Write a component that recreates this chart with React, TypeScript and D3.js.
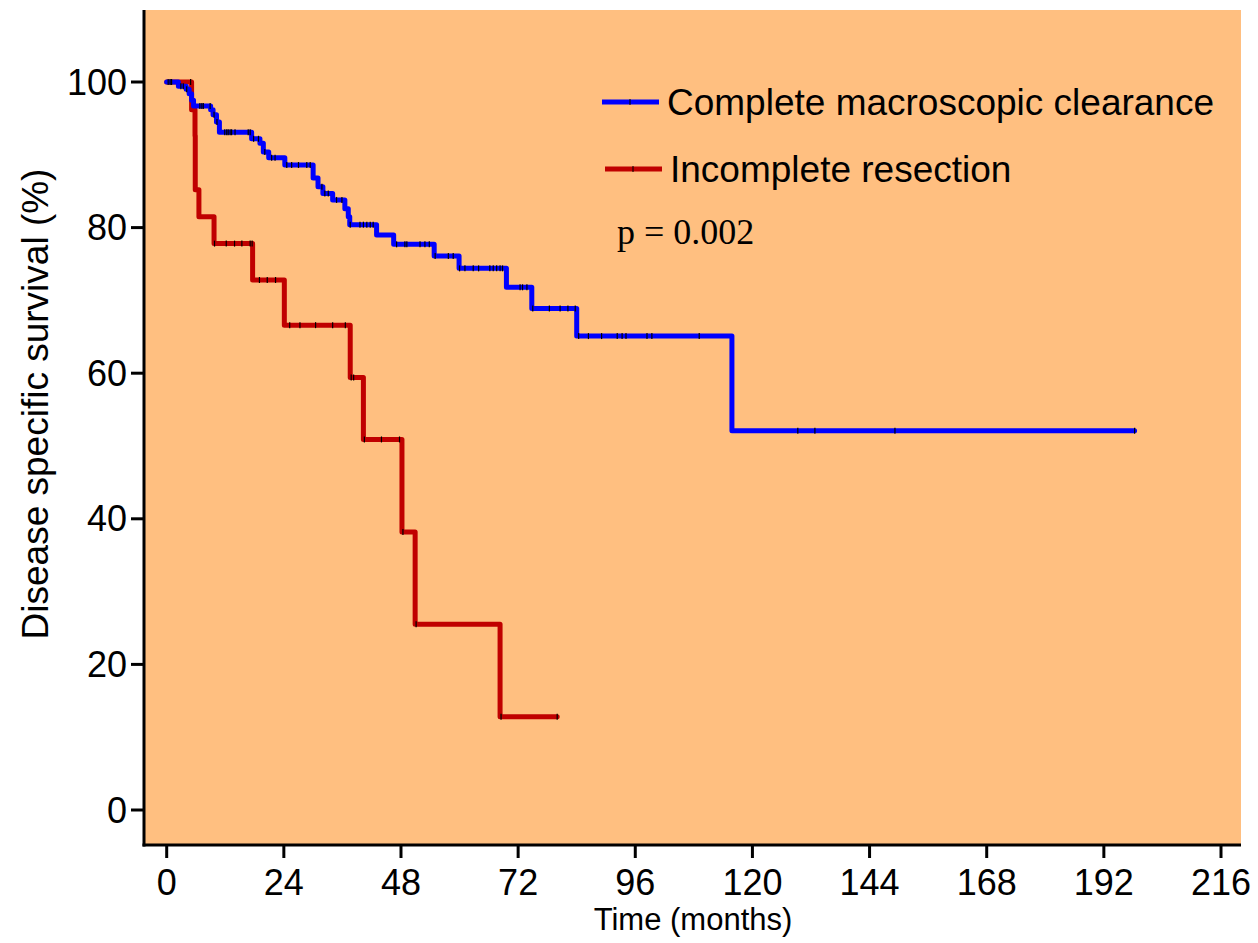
import React from "react";
import * as d3 from "d3";

// ---- Data ----
const xTicks = [0, 24, 48, 72, 96, 120, 144, 168, 192, 216];
const yTicks = [0, 20, 40, 60, 80, 100];

// Complete macroscopic clearance: step times and survival after each step
const completeTimes = [0, 2.4, 4.0, 4.6, 5.1, 5.5, 9.0, 9.5, 10.2, 10.8, 17.4, 19.1, 19.8, 20.9, 24.2, 30.0, 31.0, 32.0, 34.0, 36.5, 37.2, 37.5, 43.0, 46.5, 54.8, 59.9, 69.6, 74.8, 84.0, 115.8];
const completeSurv = [100, 99.4, 99.0, 98.4, 97.5, 96.7, 96.2, 95.5, 94.5, 93.1, 92.2, 91.6, 90.4, 89.6, 88.6, 86.8, 85.6, 84.7, 83.8, 82.6, 81.5, 80.4, 79.0, 77.7, 76.1, 74.4, 71.8, 68.9, 65.1, 52.1];
const completeEnd = 198.3;
const completeCensor = [0.3, 0.7, 1.0, 2.9, 3.4, 4.1, 6.8, 7.2, 7.5, 8.9, 9.7, 10.3, 11.9, 12.3, 12.6, 13.0, 13.3, 14.0, 16.7, 17.1, 17.8, 18.8, 20.1, 21.5, 22.2, 24.6, 25.6, 27.0, 28.7, 29.4, 31.8, 32.4, 33.1, 34.8, 35.9, 37.6, 39.6, 40.3, 41.0, 41.7, 42.3, 47.1, 48.8, 49.2, 51.9, 52.9, 53.8, 55.0, 57.7, 58.7, 60.0, 61.1, 62.8, 63.9, 66.2, 66.9, 67.6, 68.3, 68.8, 72.4, 72.9, 73.8, 75.0, 78.4, 80.6, 82.2, 83.7, 84.4, 86.4, 89.1, 92.3, 93.3, 94.1, 98.4, 99.4, 109.1, 129.3, 132.8, 149.2, 198.3];

// Incomplete resection
const incompleteTimes = [0, 5.1, 5.8, 5.85, 6.6, 9.7, 17.6, 24.1, 37.6, 40.3, 48.2, 50.9, 68.3];
const incompleteSurv = [100, 96.2, 92.6, 85.2, 81.5, 77.8, 72.8, 66.6, 59.4, 50.9, 38.2, 25.5, 12.8];
const incompleteEnd = 80.0;
const incompleteCensor = [4.9, 9.8, 12.2, 13.9, 15.4, 17.1, 17.5, 19.0, 20.6, 22.3, 25.2, 27.3, 30.5, 34.0, 36.6, 37.8, 38.3, 40.5, 44.0, 47.7, 48.4, 51.1, 68.5, 80.0];

const legendLabels = ["Complete macroscopic clearance", "Incomplete resection"];
const pText = "p = 0.002";

const W = 1258;
const H = 943;
const BLUE = "#0000ff";
const RED = "#c00000";
const BG = "#ffbf80";

function stepPoints(times: number[], surv: number[], end: number): [number, number][] {
  const pts: [number, number][] = times.map((t, i) => [t, surv[i]]);
  pts.push([end, surv[surv.length - 1]]);
  return pts;
}

function survAt(times: number[], surv: number[], t: number): number {
  let s = surv[0];
  for (let i = 0; i < times.length; i++) {
    if (times[i] <= t) s = surv[i];
  }
  return s;
}

export default function App() {
  const x = d3.scaleLinear().domain([0, 216]).range([166.7, 1221]);
  const y = d3.scaleLinear().domain([0, 100]).range([810, 82]);
  const plotLeft = 144;
  const plotRight = 1241;
  const plotTop = 10;
  const plotBottom = 845;

  const line = d3
    .line<[number, number]>()
    .x((d) => x(d[0]))
    .y((d) => y(d[1]))
    .curve(d3.curveStepAfter);

  const bluePath = line(stepPoints(completeTimes, completeSurv, completeEnd)) || "";
  const redPath = line(stepPoints(incompleteTimes, incompleteSurv, incompleteEnd)) || "";

  const font = "Arial, 'Liberation Sans', Helvetica, sans-serif";

  return (
    <svg width={W} height={H} style={{ position: "absolute", left: 0, top: 0, background: "#fff" }}>
      <rect x={plotLeft} y={plotTop} width={plotRight - plotLeft} height={plotBottom - plotTop} fill={BG} />

      {/* curves */}
      <path d={redPath} fill="none" stroke={RED} strokeWidth={5} strokeLinejoin="round" strokeLinecap="round" />
      {incompleteCensor.map((t, i) => {
        const cx = x(t);
        const cy = y(survAt(incompleteTimes, incompleteSurv, t));
        return <line key={"rc" + i} x1={cx} x2={cx} y1={cy - 3} y2={cy + 3} stroke="#000" strokeWidth={1.2} />;
      })}
      <path d={bluePath} fill="none" stroke={BLUE} strokeWidth={5} strokeLinejoin="round" strokeLinecap="round" />
      {completeCensor.map((t, i) => {
        const cx = x(t);
        const cy = y(survAt(completeTimes, completeSurv, t));
        return <line key={"bc" + i} x1={cx} x2={cx} y1={cy - 3} y2={cy + 3} stroke="#000" strokeWidth={1.2} />;
      })}

      {/* axes */}
      <line x1={plotLeft} x2={plotLeft} y1={plotTop} y2={plotBottom + 1.5} stroke="#000" strokeWidth={3} />
      <line x1={plotLeft - 1.5} x2={plotRight} y1={plotBottom} y2={plotBottom} stroke="#000" strokeWidth={3} />
      {yTicks.map((v) => (
        <g key={"yt" + v}>
          <line x1={plotLeft - 13} x2={plotLeft} y1={y(v)} y2={y(v)} stroke="#000" strokeWidth={3} />
          <text x={plotLeft - 17} y={y(v)} textAnchor="end" dominantBaseline="central" fontFamily={font} fontSize={36} fill="#000">
            {v}
          </text>
        </g>
      ))}
      {xTicks.map((v) => (
        <g key={"xt" + v}>
          <line x1={x(v)} x2={x(v)} y1={plotBottom} y2={plotBottom + 13} stroke="#000" strokeWidth={3} />
          <text x={x(v)} y={895} textAnchor="middle" fontFamily={font} fontSize={36} fill="#000">
            {v}
          </text>
        </g>
      ))}

      <text x={693} y={930} textAnchor="middle" fontFamily={font} fontSize={31} fill="#000">
        Time (months)
      </text>
      <text
        transform={`translate(48, 404) rotate(-90)`}
        textAnchor="middle"
        fontFamily={font}
        fontSize={37}
        fill="#000"
      >
        Disease specific survival (%)
      </text>

      {/* legend */}
      <line x1={602} x2={659} y1={102} y2={102} stroke={BLUE} strokeWidth={5} />
      <line x1={630} x2={630} y1={99} y2={105} stroke="#000" strokeWidth={1} />
      <text x={667} y={115} fontFamily={font} fontSize={37} fill="#000">
        {legendLabels[0]}
      </text>
      <line x1={605} x2={662} y1={169} y2={169} stroke={RED} strokeWidth={5} />
      <line x1={633} x2={633} y1={166} y2={172} stroke="#000" strokeWidth={1} />
      <text x={670} y={182} fontFamily={font} fontSize={37} fill="#000">
        {legendLabels[1]}
      </text>
      <text x={617} y={244} fontFamily="'Liberation Serif', 'Times New Roman', serif" fontSize={36} fill="#000">
        {pText}
      </text>
    </svg>
  );
}
